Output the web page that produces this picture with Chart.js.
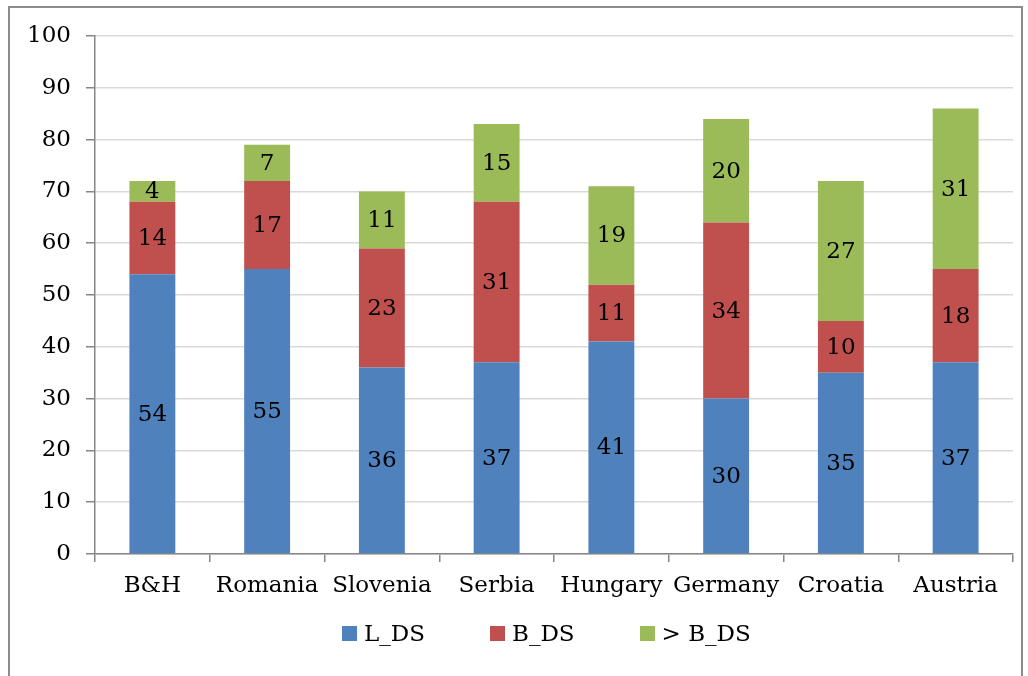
<!DOCTYPE html>
<html>
<head>
<meta charset="utf-8">
<script src="https://cdn.jsdelivr.net/npm/chart.js@4.4.1/dist/chart.umd.min.js"></script>
<style>
  html, body { margin: 0; padding: 0; background: #fff; }
  body { width: 1028px; height: 676px; position: relative; overflow: hidden; font-family: "DejaVu Serif", serif; }
  .frame { position: absolute; left: 8px; top: 6px; width: 1011px; height: 700px; border: 2px solid #8c8c8c; }
  #chart { position: absolute; left: 0; top: 0; }
  #legend { position: absolute; left: 342px; top: 620px; display: flex; align-items: center; font-size: 23px; color: #000; }
  #legend .item { display: flex; align-items: center; margin-right: 65px; }
  #legend .box { width: 15px; height: 15px; margin-right: 7px; }
</style>
</head>
<body>
<div class="frame"></div>
<canvas id="chart" width="1028" height="676"></canvas>
<div id="legend"></div>
<script>
const countries = ['B&H', 'Romania', 'Slovenia', 'Serbia', 'Hungary', 'Germany', 'Croatia', 'Austria'];
const lds = [54, 55, 36, 37, 41, 30, 35, 37];
const bds = [14, 17, 23, 31, 11, 34, 10, 18];
const overBds = [4, 7, 11, 15, 19, 20, 27, 31];
const yTicks = [0, 10, 20, 30, 40, 50, 60, 70, 80, 90, 100];

const fontFamily = '"DejaVu Serif", serif';

// numbers in the middle of each bar segment
const segmentLabels = {
    id: 'segmentLabels',
    afterDatasetsDraw(chart) {
        const ctx = chart.ctx;
        ctx.save();
        ctx.font = '23px ' + fontFamily;
        ctx.fillStyle = '#000';
        ctx.textAlign = 'center';
        ctx.textBaseline = 'middle';
        chart.data.datasets.forEach((ds, i) => {
            const meta = chart.getDatasetMeta(i);
            meta.data.forEach((bar, j) => {
                const y = (bar.y + bar.base) / 2;
                ctx.fillText(ds.data[j], bar.x, y + 1);
            });
        });
        ctx.restore();
    }
};

const htmlLegend = {
    id: 'htmlLegend',
    afterUpdate(chart) {
        const box = document.getElementById('legend');
        box.innerHTML = '';
        chart.data.datasets.forEach(ds => {
            const item = document.createElement('div');
            item.className = 'item';
            const sw = document.createElement('span');
            sw.className = 'box';
            sw.style.background = ds.backgroundColor;
            const txt = document.createElement('span');
            txt.textContent = ds.label;
            item.appendChild(sw);
            item.appendChild(txt);
            box.appendChild(item);
        });
    }
};

new Chart(document.getElementById('chart'), {
    type: 'bar',
    data: {
        labels: countries,
        datasets: [
            { label: 'L_DS', data: lds, backgroundColor: '#4F81BD' },
            { label: 'B_DS', data: bds, backgroundColor: '#C0504D' },
            { label: '> B_DS', data: overBds, backgroundColor: '#9BBB59' }
        ]
    },
    options: {
        responsive: false,
        animation: false,
        devicePixelRatio: 1,
        layout: { padding: { left: 0, right: 15, top: 36, bottom: 72 } },
        datasets: { bar: { barPercentage: 0.4, categoryPercentage: 1 } },
        plugins: {
            legend: { display: false },
            tooltip: { enabled: false }
        },
        scales: {
            x: {
                stacked: true,
                afterFit: scale => { scale.height = 50; },
                border: { color: '#868686', width: 1.5 },
                grid: { offset: true, drawOnChartArea: false, tickLength: 8, color: '#868686', lineWidth: 1.5 },
                ticks: { color: '#000', font: { family: fontFamily, size: 23 }, padding: 10 }
            },
            y: {
                stacked: true,
                min: 0,
                max: 100,
                afterFit: scale => { scale.width = 95; },
                afterBuildTicks: scale => { scale.ticks = yTicks.map(v => ({ value: v })); },
                border: { color: '#868686', width: 1.5 },
                grid: { color: '#d9d9d9', lineWidth: 1.5, tickLength: 9, tickColor: '#868686' },
                ticks: { color: '#000', font: { family: fontFamily, size: 23 }, padding: 15 }
            }
        }
    },
    plugins: [segmentLabels, htmlLegend]
});
</script>
</body>
</html>
